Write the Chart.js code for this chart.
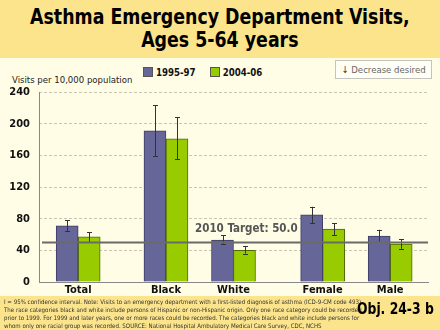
<!DOCTYPE html>
<html lang="en">
<head>
  <meta charset="UTF-8">
  <title>Asthma Emergency Department Visits</title>
  <script src="https://cdn.jsdelivr.net/npm/chart.js@4.4.1/dist/chart.umd.min.js"></script>
  <style>
    html, body { margin: 0; padding: 0; }
    body { width: 440px; height: 330px; position: relative; overflow: hidden; background: #fffde6; font-family: "DejaVu Sans Condensed", "DejaVu Sans", sans-serif; }
    .band { position: absolute; left: 0; width: 440px; background: #fbe48c; }
    #titulo { position: absolute; top: 6px; left: 0; width: 440px; text-align: center; font-weight: bold; font-size: 21px; line-height: 23px; color: #000; transform: scaleX(0.92); transform-origin: 218px 0; white-space: nowrap; }
    #eixoY { position: absolute; left: 12px; top: 74px; font-size: 9.5px; color: #222; }
    #legenda { position: absolute; left: 143px; top: 67px; font-size: 9.6px; font-weight: bold; color: #111; white-space: nowrap; }
    #legenda span.item { margin-right: 14px; }
    #legenda span.cx { display: inline-block; width: 8px; height: 8px; border: 1px solid #555; vertical-align: -1px; margin-right: 3px; }
    #decr { position: absolute; left: 335px; top: 60px; width: 97px; height: 19px; border: 1px solid #c4c4bc; background: #fffff6; font-size: 9.5px; color: #666; line-height: 17px; text-align: center; box-sizing: border-box; white-space: nowrap; }
    #decr b { color: #333; font-weight: normal; }
    #nota { position: absolute; left: 4px; top: 298px; font-size: 6.1px; line-height: 8px; color: #333; white-space: nowrap; }
    #obj { position: absolute; left: 357px; top: 299px; font-size: 16px; font-weight: bold; color: #000; white-space: nowrap; transform: scaleX(0.86); transform-origin: 0 0; }
    #grafico { position: absolute; left: 0; top: 0; }
  </style>
</head>
<body>
  <div class="band" style="top:0;height:58px"></div>
  <div class="band" style="top:296px;height:34px"></div>
  <div id="titulo">Asthma Emergency Department Visits,<br>Ages 5-64 years</div>
  <div id="eixoY">Visits per 10,000 population</div>
  <div id="legenda"></div>
  <div id="decr"><b>↓</b> Decrease desired</div>
  <canvas id="grafico" width="440" height="330"></canvas>
  <div id="nota">I = 95% confidence interval. Note: Visits to an emergency department with a first-listed diagnosis of asthma (ICD-9-CM code 493).<br>The race categories black and white include persons of Hispanic or non-Hispanic origin. Only one race category could be recorded<br>prior to 1999. For 1999 and later years, one or more races could be recorded. The categories black and white include persons for<br>whom only one racial group was recorded. SOURCE:  National Hospital Ambulatory Medical Care Survey, CDC, NCHS</div>
  <div id="obj">Obj. 24-3 b</div>

<script>
  // dados
  const categorias = ["Total", "Black", "White", "Female", "Male"];
  const series = ["1995-97", "2004-06"];

  const val1995 = [71, 191, 53, 85, 58];
  const baixo1995 = [64, 159, 48, 74, 51];
  const alto1995 = [78, 223, 59, 95, 66];

  const val2004 = [57, 181, 40, 67, 48];
  const baixo2004 = [50, 155, 36, 59, 42];
  const alto2004 = [63, 208, 45, 74, 54];

  const meta = 50.0;
  const metaTexto = "2010 Target: 50.0";
  const ticksY = [0, 40, 80, 120, 160, 200, 240];

  // posicao de cada grupo no eixo x (Total | Black White | Female Male)
  const posX = [0, 1.3, 2.3, 3.62, 4.62];

  const cores = ["#666699", "#99cc00"];
  const bordas = ["#3d3d66", "#4f6a00"];

  document.getElementById("legenda").innerHTML = series.map((s, i) =>
    `<span class="item"><span class="cx" style="background:${cores[i]}"></span>${s}</span>`).join("");

  const fonte = "'DejaVu Sans Condensed', 'DejaVu Sans', sans-serif";

  const barrasErro = {
    id: "barrasErro",
    beforeDatasetsDraw(chart) {
      // eixo y solido (a grade e tracejada)
      const a = chart.chartArea;
      const ctx = chart.ctx;
      ctx.save();
      ctx.setLineDash([]);
      ctx.strokeStyle = "#888";
      ctx.lineWidth = 1;
      ctx.beginPath();
      ctx.moveTo(Math.round(a.left) + 0.5, a.top);
      ctx.lineTo(Math.round(a.left) + 0.5, a.bottom);
      ctx.stroke();
      ctx.restore();
    },
    afterDatasetsDraw(chart) {
      const ctx = chart.ctx;
      const y = chart.scales.y;
      const lim = [[baixo1995, alto1995], [baixo2004, alto2004]];
      ctx.save();
      ctx.setLineDash([]);
      ctx.strokeStyle = "#333";
      ctx.lineWidth = 1;
      chart.data.datasets.forEach((ds, d) => {
        chart.getDatasetMeta(d).data.forEach((bar, i) => {
          const x = Math.round(bar.x) + 0.5;
          const y1 = y.getPixelForValue(lim[d][0][i]);
          const y2 = y.getPixelForValue(lim[d][1][i]);
          ctx.beginPath();
          ctx.moveTo(x, y1); ctx.lineTo(x, y2);
          ctx.moveTo(x - 2.5, Math.round(y1) + 0.5); ctx.lineTo(x + 2.5, Math.round(y1) + 0.5);
          ctx.moveTo(x - 2.5, Math.round(y2) + 0.5); ctx.lineTo(x + 2.5, Math.round(y2) + 0.5);
          ctx.stroke();
        });
      });

      // linha da meta 2010
      const a = chart.chartArea;
      const ym = y.getPixelForValue(meta);
      ctx.strokeStyle = "#6a6a6a";
      ctx.lineWidth = 2;
      ctx.beginPath();
      ctx.moveTo(a.left + 3, ym); ctx.lineTo(a.right, ym);
      ctx.stroke();
      ctx.fillStyle = "#555";
      ctx.font = "bold 11.5px " + fonte;
      ctx.textBaseline = "alphabetic";
      ctx.fillText(metaTexto, 195, ym - 10);
      ctx.restore();
    }
  };

  const ctx = document.getElementById("grafico").getContext("2d");
  new Chart(ctx, {
    type: "bar",
    data: {
      datasets: series.map((s, d) => ({
        label: s,
        data: (d === 0 ? val1995 : val2004).map((v, i) => ({ x: posX[i], y: v })),
        backgroundColor: cores[d],
        borderColor: bordas[d],
        borderWidth: 1,
        barThickness: 22
      }))
    },
    options: {
      responsive: false,
      animation: false,
      layout: { padding: { left: 0, right: 12, top: 92, bottom: 34 } },
      plugins: { legend: { display: false }, tooltip: { enabled: false } },
      scales: {
        x: {
          type: "linear",
          offset: false,
          min: -0.58,
          max: 5.18,
          afterBuildTicks: s => { s.ticks = posX.map(v => ({ value: v })); },
          afterFit: s => { s.height = 14; },
          grid: { display: false, drawTicks: false },
          border: { color: "#888", width: 1 },
          ticks: {
            autoSkip: false, maxRotation: 0, padding: 2,
            color: "#111",
            font: { family: fonte, size: 11, weight: "bold" },
            callback: (v, i) => categorias[i]
          }
        },
        y: {
          min: 0,
          max: 240,
          afterBuildTicks: s => { s.ticks = ticksY.map(v => ({ value: v })); },
          afterFit: s => { s.width = 39; },
          grid: { color: "#c9c6b4", drawTicks: false, tickLength: 0 },
          border: { display: false, dash: [3, 2] },
          ticks: {
            padding: 9,
            color: "#111",
            font: { family: fonte, size: 11, weight: "bold" }
          }
        }
      }
    },
    plugins: [barrasErro]
  });
</script>
</body>
</html>
